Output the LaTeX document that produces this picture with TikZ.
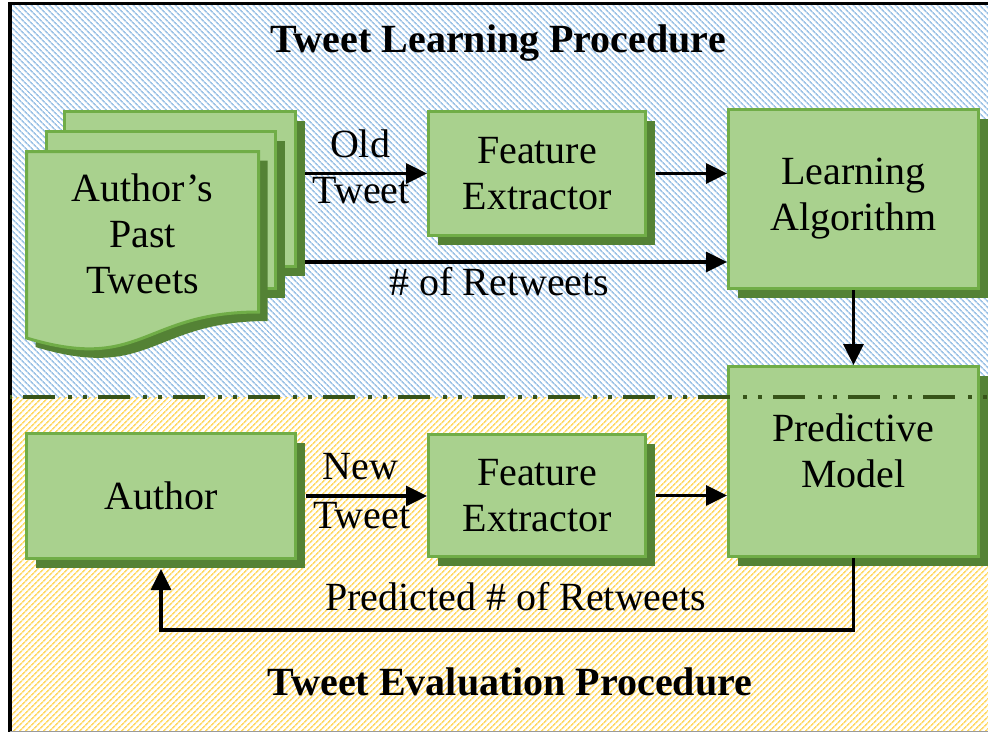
\documentclass[tikz,border=0pt]{standalone}
\usepackage{fontspec}
\setmainfont{Liberation Serif}
\usetikzlibrary{arrows.meta,patterns.meta,shadows,fit,calc}

\definecolor{boxfill}{HTML}{A9D18E}
\definecolor{boxline}{HTML}{70AD47}
\definecolor{boxshadow}{HTML}{548235}
\definecolor{hatchblue}{HTML}{9DC3E6}
\definecolor{hatchyellow}{HTML}{FFD966}
\definecolor{sepgreen}{HTML}{375419}

\begin{document}
\begin{tikzpicture}[x=1pt,y=-1pt,
  every node/.style={font=\fontsize{40}{46}\selectfont},
  box/.style={draw=boxline, line width=3pt, fill=boxfill, inner sep=0pt, align=center,
     drop shadow={shadow xshift=9pt, shadow yshift=-9pt, opacity=1, fill=boxshadow}},
  arr/.style={line width=3.4pt, -{Triangle[length=21pt,width=20pt]}},
  lbl/.style={inner sep=0pt},
  ttl/.style={inner sep=0pt, font=\fontsize{40}{46}\selectfont\bfseries},
  page/.style={draw=boxline, line width=3pt, fill=boxfill},
  pageshadow/.style={fill=boxshadow},
]
\useasboundingbox (0,0) rectangle (988,732);
\fill[white] (0,0) rectangle (988,732);
% background regions
\fill[pattern={Lines[angle=-45,distance=4pt,line width=1.7pt]}, pattern color=hatchblue] (10,3) rectangle (988,397);
\fill[pattern={Lines[angle=45,distance=4pt,line width=1.7pt]}, pattern color=hatchyellow] (10,397) rectangle (988,731);
\draw[line width=3pt] (8,3.5) -- (988,3.5);
\draw[line width=4pt] (9.5,2) -- (9.5,732);
\draw[black!40, line width=1pt] (9.5,731) -- (988,731);

% titles
\node[ttl, anchor=base] (t1) at (498,52) {Tweet Learning Procedure};
\node[ttl, anchor=base] (t2) at (510,695) {Tweet Evaluation Procedure};

% multi-document shape
\fill[pageshadow] (73.5,120.5) rectangle (304.5,275.5);
\draw[page] (64.5,111.5) rectangle (295.5,266.5);
\fill[pageshadow] (55.5,140.5) rectangle (284.5,297.5);
\draw[page] (46.5,131.5) rectangle (275.5,288.5);
\begin{scope}[shift={(9,9)}]
\fill[pageshadow] (26.5,151.5) -- (258.5,151.5) -- (258.5,312) .. controls (142.5,312) and (142.5,373) .. (26.5,338) -- cycle;
\end{scope}
\draw[page] (26.5,151.5) -- (258.5,151.5) -- (258.5,312) .. controls (142.5,312) and (142.5,373) .. (26.5,338) -- cycle;
\node[lbl, align=center] (docstext) at (142.5,234) {Author’s\\Past\\Tweets};
\node[inner sep=0pt, fit={(25,110)(305,351)}] (docs) {};

% boxes
\node[box, minimum width=217pt, minimum height=124pt] (fe1) at (537,173.5) {Feature\\Extractor};
\node[box, minimum width=250pt, minimum height=179pt] (la) at (853.5,199) {Learning\\Algorithm};
\node[box, minimum width=250pt, minimum height=190pt] (pm) at (853.5,461.5) {};
\node[box, minimum width=269pt, minimum height=125pt] (author) at (161,496) {Author};
\node[box, minimum width=217pt, minimum height=122pt] (fe2) at (537,495.5) {Feature\\Extractor};

% separator
\draw[sepgreen, line width=3.5pt, dash pattern=on 32pt off 13pt on 3.5pt off 11.5pt on 3.5pt off 11.5pt, dash phase=62pt] (10,397) -- (988,397);
\node[lbl, align=center] (pmtext) at (853.5,451) {Predictive\\Model};

% connectors
\draw[arr] (docs.east |- fe1.west) -- node[lbl, pos=.45, anchor=base, yshift=16pt] (l1) {Old} node[lbl, pos=.46, anchor=base, yshift=-30pt] (l2) {Tweet} (fe1.west);
\draw[arr] ([xshift=9pt]fe1.east) -- (la.west |- fe1.east);
\draw[arr] (docs.east |- 0,262) -- node[lbl, pos=.46, anchor=base, yshift=-33pt] (l3) {\# of Retweets} (la.west |- 0,262);
\draw[arr] (la.south) -- (pm.north);
\draw[arr] ([xshift=9pt]author.east) -- node[lbl, pos=.45, anchor=base, yshift=17pt] (l4) {New} node[lbl, pos=.46, anchor=base, yshift=-32pt] (l5) {Tweet} (fe2.west |- author.east);
\draw[arr] ([xshift=9pt]fe2.east) -- (pm.west |- fe2.east);
\draw[arr] (pm.south) -- (pm.south |- 0,630) -| node[lbl, pos=.244, anchor=base, yshift=20pt] (l6) {Predicted \# of Retweets} ([yshift=-9pt]author.south);
\end{tikzpicture}
\end{document}
